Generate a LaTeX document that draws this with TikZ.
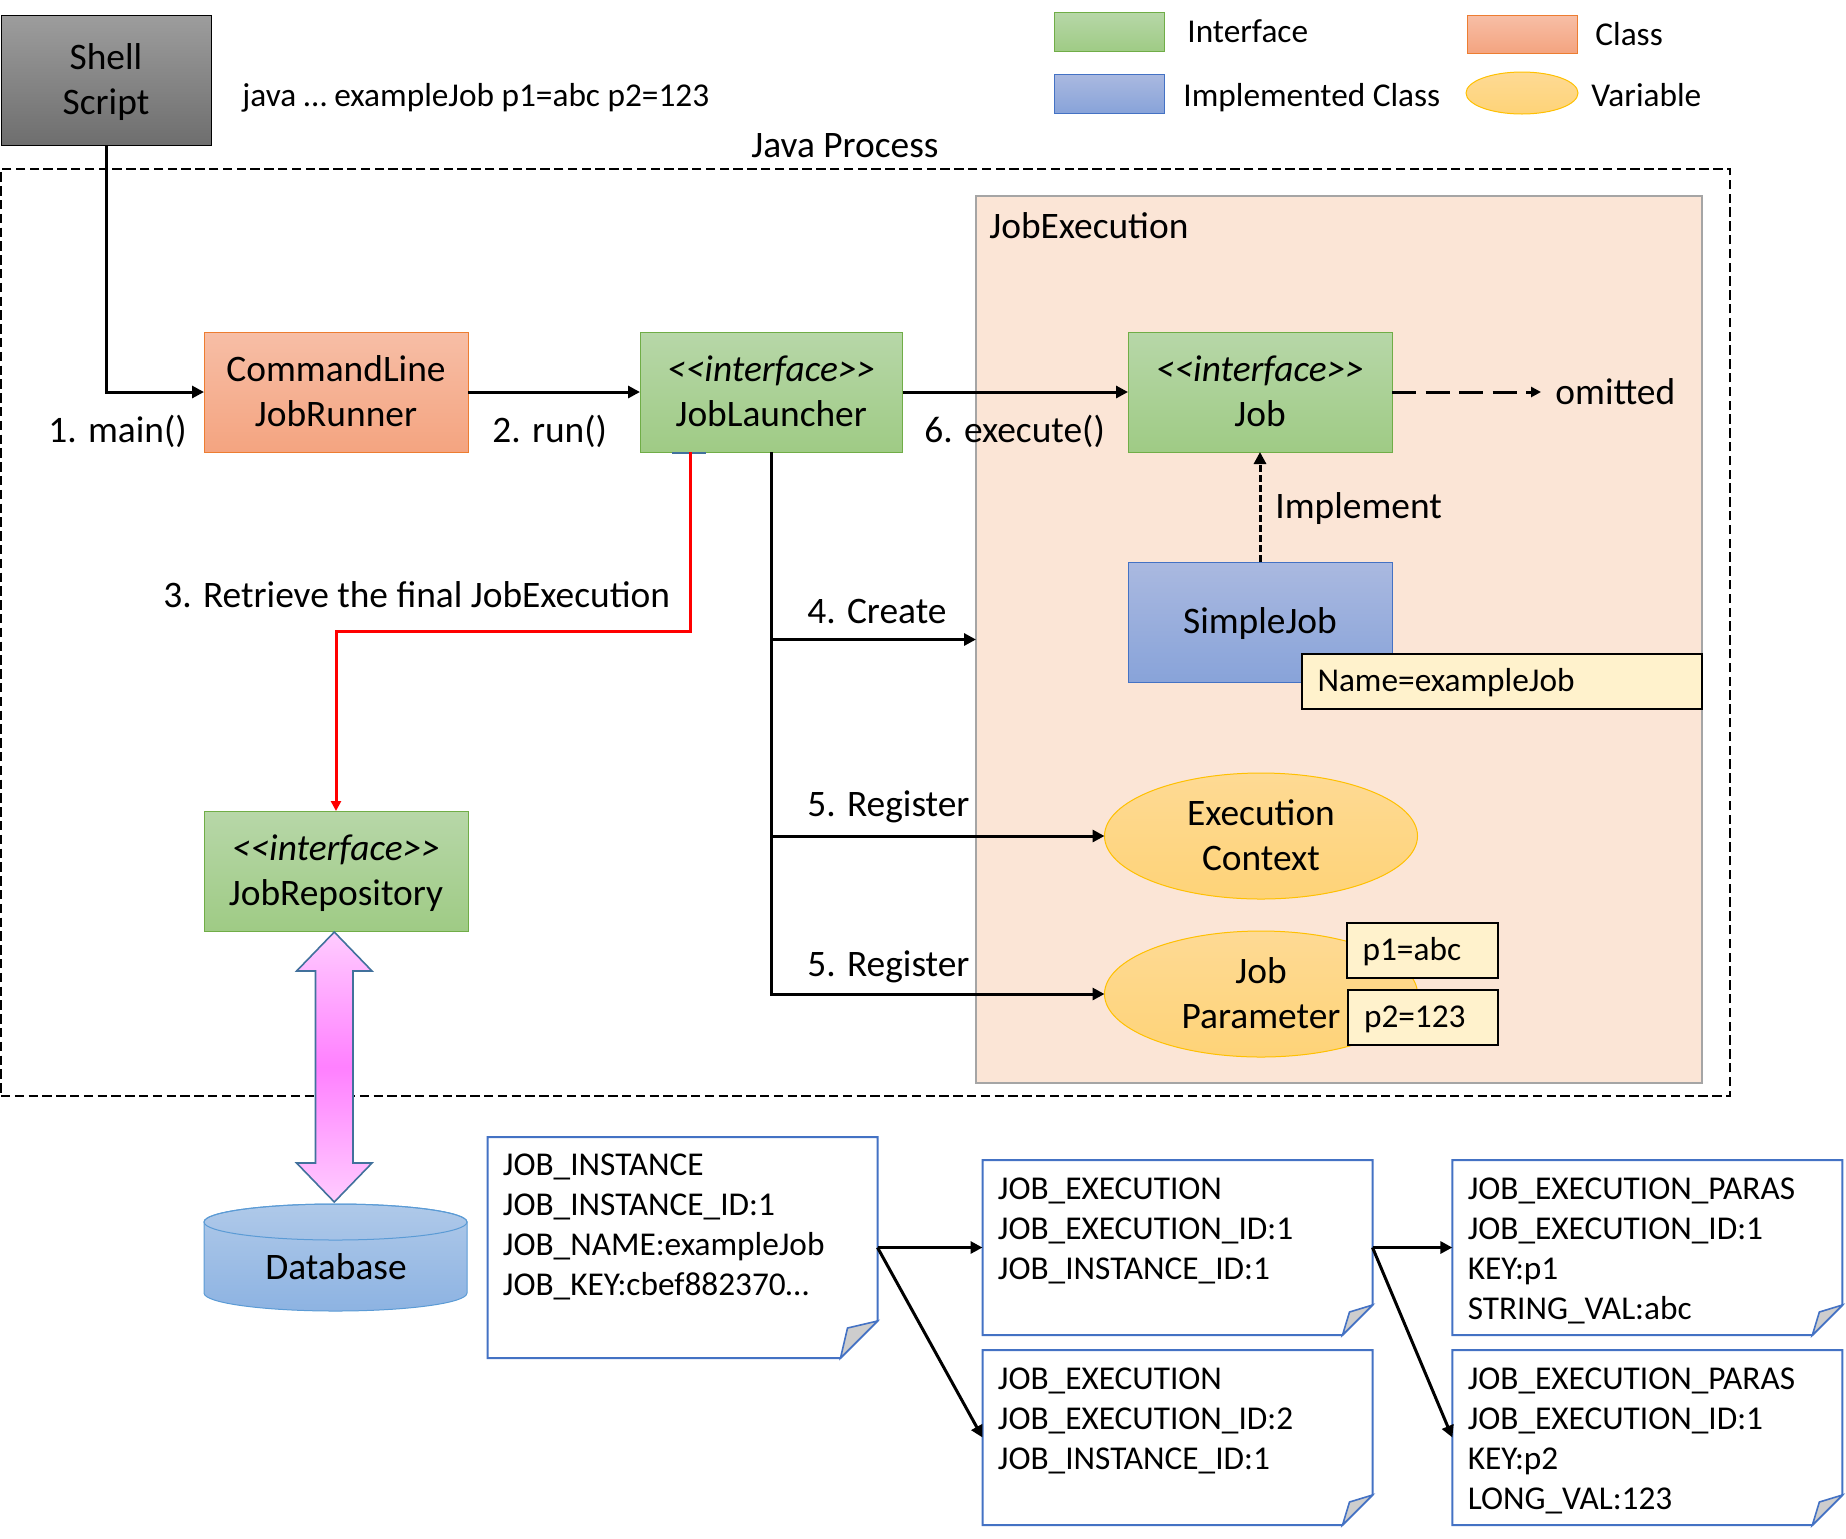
\documentclass[tikz,border=0pt]{standalone}
\usepackage{fontspec}
\setmainfont{Carlito}
\usetikzlibrary{arrows.meta,calc,shapes.geometric}
\definecolor{greenT}{HTML}{B7D7A8}
\definecolor{greenB}{HTML}{9FCB85}
\definecolor{greenL}{HTML}{70AD47}
\definecolor{orangeT}{HTML}{F7BEA6}
\definecolor{orangeB}{HTML}{F4A480}
\definecolor{orangeL}{HTML}{ED7D31}
\definecolor{blueT}{HTML}{AAB9E0}
\definecolor{blueB}{HTML}{88A3D9}
\definecolor{blueL}{HTML}{4472C4}
\definecolor{yelT}{HTML}{FEDA94}
\definecolor{yelB}{HTML}{FED378}
\definecolor{yelL}{HTML}{FFC000}
\definecolor{grayT}{HTML}{9D9D9D}
\definecolor{grayB}{HTML}{6E6E6E}
\definecolor{execF}{HTML}{FBE5D6}
\definecolor{execL}{HTML}{A5A5A5}
\definecolor{noteF}{HTML}{FFF2CC}
\definecolor{dbT}{HTML}{AFC9E9}
\definecolor{dbB}{HTML}{8DB3E2}
\definecolor{dbL}{HTML}{5B9BD5}
\definecolor{pinkE}{HTML}{FFCCFF}
\definecolor{pinkM}{HTML}{FF80FF}
\definecolor{arrowL}{HTML}{41719C}
\definecolor{foldF}{HTML}{CDCDCD}
\newcommand{\bigfont}{\fontsize{18.7}{22.4}\selectfont}
\newcommand{\smallfont}{\fontsize{16.65}{20}\selectfont}
\newcommand{\linestrut}{\rule[-5.3pt]{0pt}{22.4pt}}
\newcommand{\valstrut}{\rule[-4.6pt]{0pt}{19.6pt}}
\newcommand{\twolines}[2]{\linestrut #1\\#2\linestrut}
\newcommand{\angq}{<{}<}
\newcommand{\angr}{>{}>}
\tikzset{
  shapebox/.style={rectangle,inner sep=0pt,outer sep=0pt,line width=0.5pt,align=center,font=\bigfont},
  ifacebox/.style={shapebox,draw=greenL,top color=greenT,bottom color=greenB},
  classbox/.style={shapebox,draw=orangeL,top color=orangeT,bottom color=orangeB},
  implbox/.style={shapebox,draw=blueL,top color=blueT,bottom color=blueB},
  varell/.style={ellipse,inner sep=0pt,inner ysep=-1pt,outer sep=0pt,line width=0.5pt,align=center,font=\bigfont,draw=yelL,top color=yelT,bottom color=yelB},
  valbox/.style={rectangle,draw=black,line width=1pt,fill=noteF,inner xsep=8pt,inner ysep=0pt,outer sep=0pt,align=left,font=\smallfont,minimum height=27.65pt,execute at begin node=\valstrut},
  docbox/.style={rectangle,inner sep=0pt,outer sep=0pt,minimum width=195pt},
  doctext/.style={anchor=north west,inner sep=0pt,align=left,font=\smallfont},
  docline/.style={draw=blueL,line width=1pt,line join=miter},
  biglabel/.style={anchor=base west,inner sep=0pt,font=\bigfont},
  smalllabel/.style={anchor=base west,inner sep=0pt,font=\smallfont},
  flow/.style={draw=black,line width=1.5pt,-{Triangle[length=6pt,width=6pt]}},
  redflow/.style={draw=red,line width=1.5pt,-{Triangle[length=5pt,width=5pt]}},
  dashflow/.style={draw=black,line width=1.5pt,dash pattern=on 12pt off 4.75pt,-{Triangle[length=5pt,width=5pt]}},
  shortdash/.style={draw=black,line width=1.5pt,dash pattern=on 3.5pt off 1.5pt,-{Triangle[length=6pt,width=6pt]}},
}
\newcommand{\foldcorner}[2]{%
  \path[docline] (#1.north west) -- (#1.north east) -- ($(#1.south east)+(0,-#2)$) -- ($(#1.south east)+(-#2,0)$) -- (#1.south west) -- cycle;
  \path[docline,fill=foldF,line width=0.8pt] ($(#1.south east)+(-#2,0)$) -- ($(#1.south east)+(-#2+7,-#2+7)$) -- ($(#1.south east)+(0,-#2)$) -- cycle;
}
\begin{document}
\begin{tikzpicture}[x=0.5pt,y=-0.5pt]
\useasboundingbox (0,0) rectangle (1846,1538);

% containers
\node[rectangle,draw=black,line width=1pt,dash pattern=on 4.7pt off 2.2pt,inner sep=0pt,outer sep=0pt,minimum width=864.5pt,minimum height=463.5pt] (process) at (865.5,632.5) {};
\node[rectangle,draw=execL,line width=0.6pt,fill=execF,inner sep=0pt,outer sep=0pt,minimum width=363pt,minimum height=443.5pt] (jobexec) at (1339,639.5) {};

% top row
\node[shapebox,draw=black,top color=grayT,bottom color=grayB,minimum width=105pt,minimum height=65pt] (shell) at (106,80) {\twolines{Shell}{Script}};
\node[classbox,minimum width=132pt,minimum height=60pt] (runner) at (336,392) {\twolines{CommandLine}{JobRunner}};
\node[ifacebox,minimum width=131.25pt,minimum height=60pt] (launcher) at (771.25,392) {\twolines{\textit{\angq interface\angr}}{JobLauncher}};
\node[ifacebox,minimum width=132pt,minimum height=60pt] (job) at (1260,392) {\twolines{\textit{\angq interface\angr}}{Job}};
\node[implbox,minimum width=132pt,minimum height=60pt] (simple) at (1260,622) {\linestrut SimpleJob};
\node[valbox,text width=184.25pt] (jobname) at (1501.75,681.35) {Name=exampleJob};
\node[varell,minimum width=156.5pt,minimum height=63pt] (context) at (1261,836) {\twolines{Execution}{Context}};
\node[varell,minimum width=156.5pt,minimum height=63pt] (param) at (1261,994) {\twolines{Job}{Parameter}};
\node[valbox,text width=59.7pt] (p1) at (1422.3,950.3) {p1=abc};
\node[valbox,text width=59pt] (p2) at (1423,1017.3) {p2=123};
\node[ifacebox,minimum width=132pt,minimum height=60pt] (repo) at (336,871) {\twolines{\textit{\angq interface\angr}}{JobRepository}};

% legend
\node[ifacebox,minimum width=55.3pt,minimum height=19.5pt] (legif) at (1109.3,31.5) {};
\node[implbox,minimum width=55.3pt,minimum height=19.5pt] (legimpl) at (1109.3,93.5) {};
\node[classbox,minimum width=55pt,minimum height=19pt] (legclass) at (1522,34) {};
\node[varell,inner ysep=0pt,minimum width=56pt,minimum height=21pt] (legvar) at (1522,93) {};
\node[smalllabel] (tif) at (1187,42) {Interface};
\node[smalllabel] (timpl) at (1183,106) {Implemented Class};
\node[smalllabel] (tclass) at (1595,45.7) {Class};
\node[smalllabel] (tvar) at (1591,106.5) {Variable};

% double arrow
\path[draw=arrowL,line width=0.8pt,line join=miter,top color=pinkE,bottom color=pinkE,middle color=pinkM]
  (334.3,932) -- (372,971) -- (353,971) -- (353,1163) -- (372,1163) -- (334.3,1202)
  -- (296.6,1163) -- (315.5,1163) -- (315.5,971) -- (296.6,971) -- cycle;

% database
\path[draw=dbL,line width=0.5pt,top color=dbT,bottom color=dbB]
  (204,1222) -- (204,1293) arc[x radius=131.5pt/2,y radius=9pt,start angle=180,end angle=360]
  -- (467,1222) arc[x radius=131.5pt/2,y radius=9pt,start angle=0,end angle=180] -- cycle;
\draw[dbL,line width=0.5pt] (335.5,1222) ellipse[x radius=131.5pt/2,y radius=9pt];
\node[font=\bigfont,inner sep=0pt] (database) at (336,1267) {Database};

% documents
\node[docbox,minimum height=110.5pt] (inst) at (682.5,1247.5) {};
\node[docbox,minimum height=87.5pt] (execa) at (1177.5,1247.5) {};
\node[docbox,minimum height=87.5pt] (execb) at (1177.5,1437.5) {};
\node[docbox,minimum height=87.5pt] (parasa) at (1647.35,1247.5) {};
\node[docbox,minimum height=87.5pt] (parasb) at (1647.35,1437.5) {};
\foldcorner{inst}{37}
\foldcorner{execa}{30}
\foldcorner{execb}{30}
\foldcorner{parasa}{30}
\foldcorner{parasb}{30}
\node[doctext] (insttext) at ($(inst.north west)+(15,16)$) {JOB\_INSTANCE\\JOB\_INSTANCE\_ID:1\\JOB\_NAME:exampleJob\\JOB\_KEY:cbef882370…};
\node[doctext] (execatext) at ($(execa.north west)+(15,17)$) {JOB\_EXECUTION\\JOB\_EXECUTION\_ID:1\\JOB\_INSTANCE\_ID:1};
\node[doctext] (execbtext) at ($(execb.north west)+(15,17)$) {JOB\_EXECUTION\\JOB\_EXECUTION\_ID:2\\JOB\_INSTANCE\_ID:1};
\node[doctext] (parasatext) at ($(parasa.north west)+(15,17)$) {JOB\_EXECUTION\_PARAS\\JOB\_EXECUTION\_ID:1\\KEY:p1\\STRING\_VAL:abc};
\node[doctext] (parasbtext) at ($(parasb.north west)+(15,17)$) {JOB\_EXECUTION\_PARAS\\JOB\_EXECUTION\_ID:1\\KEY:p2\\LONG\_VAL:123};

% labels
\node[smalllabel] (cmdline) at (242,106) {java … exampleJob p1=abc p2=123};
\node[biglabel] (tproc) at (751,157) {Java Process};
\node[biglabel] (texec) at (989,238) {JobExecution};
\node[biglabel] (tmain) at (48,442.7) {1. main()};
\node[biglabel] (trun) at (492,442.7) {2. run()};
\node[biglabel] (texecute) at (924,442.7) {6. execute()};
\node[biglabel] (timplement) at (1275,518) {Implement};
\node[biglabel] (tretrieve) at (163,607) {3. Retrieve the final JobExecution};
\node[biglabel] (tcreate) at (807,623) {4. Create};
\node[biglabel] (tregone) at (807,816) {5. Register};
\node[biglabel] (tregtwo) at (807,976) {5. Register};
\node[biglabel] (tomit) at (1555,404) {omitted};
\coordinate (omitend) at (1541,392);
\coordinate (redstart) at (690,452);

% connectors
\draw[flow] (shell.south) |- (runner.west);
\draw[flow] (runner.east) -- (launcher.west);
\draw[flow] (launcher.east) -- (job.west);
\draw[dashflow] (job.east) -- (omitend);
\draw[shortdash] (simple.north) -- (job.south);
\draw[arrowL,line width=1pt] (672,453) -- (706,453);
\draw[redflow] (redstart) -- ++(0,179) -| (repo.north);
\draw[flow] (launcher.south) |- (jobexec.west);
\draw[flow] (launcher.south) |- (context.west);
\draw[flow] (launcher.south) |- (param.west);
\draw[flow] (inst.east) -- (execa.west);
\draw[flow] (inst.east) -- (execb.west);
\draw[flow] (execa.east) -- (parasa.west);
\draw[flow] (execa.east) -- (parasb.west);
\end{tikzpicture}
\end{document}
